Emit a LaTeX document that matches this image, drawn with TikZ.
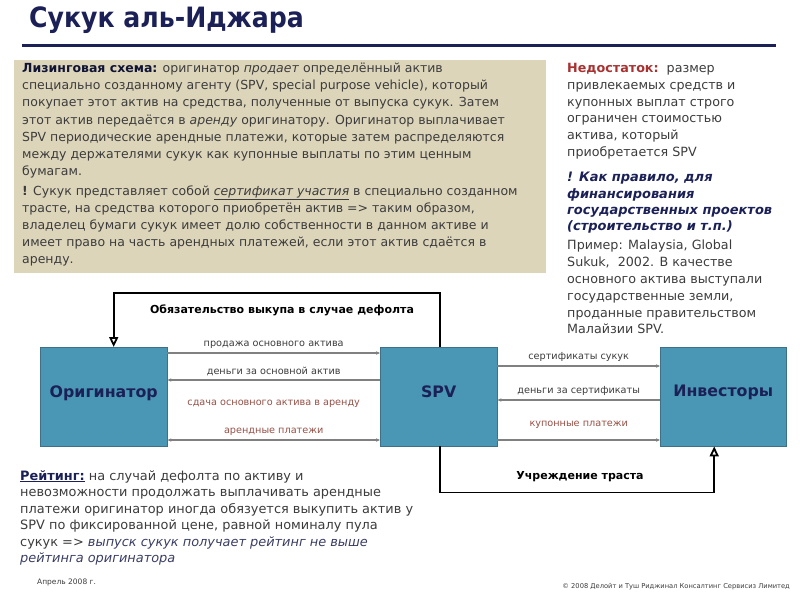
\documentclass[tikz,border=0pt]{standalone}
\usepackage{fontspec}
\setmainfont{DejaVu Sans}
\newfontfamily\titlefont{DejaVu Sans Condensed}[BoldFont={DejaVu Sans Condensed Bold}]
\usetikzlibrary{arrows.meta}

\definecolor{navy}{RGB}{27,33,87}
\definecolor{beige}{RGB}{220,213,186}
\definecolor{txtgray}{RGB}{60,60,60}
\definecolor{warnred}{RGB}{168,50,50}
\definecolor{boxblue}{RGB}{74,150,181}
\definecolor{boxedge}{RGB}{62,112,135}
\definecolor{linegray}{RGB}{128,128,128}
\definecolor{brown}{RGB}{150,80,70}

\begin{document}
\begin{tikzpicture}[x=1pt,y=-1pt,
        party/.style={rectangle,draw=boxedge,fill=boxblue,minimum width=127pt,minimum height=99pt,
            inner sep=0pt,text depth=11pt,font=\fontsize{15.8}{17}\selectfont\bfseries,text=navy},
        flow/.style={draw=linegray,line width=1.3pt,-{Stealth[length=4pt,width=3.5pt]}},
        flowlbl/.style={font=\fontsize{9.7}{11}\selectfont,text=txtgray,inner sep=1pt},
        loop/.style={draw=black,line width=1.8pt,-{Triangle[open,length=10pt,width=9pt]}},
        looplbl/.style={font=\fontsize{11}{13}\selectfont\bfseries,text=black},
        para/.style={anchor=north west,align=left,inner sep=0pt,text=txtgray}]
    \useasboundingbox (0,0) rectangle (800,600);

    % Title
    \node[anchor=west,inner sep=0pt,font=\titlefont\fontsize{28}{30}\selectfont\bfseries,text=navy] (title) at (29,20) {Сукук аль-Иджара};
    \draw[navy,line width=3pt] (22,45) -- (776,45);

    % Leasing scheme
    \fill[beige] (14,60) rectangle (546,273);
    \node[para,font=\fontsize{12.5}{17.1}\selectfont] (lease) at (22,63) {%
        \textcolor{navy!60!black}{\textbf{Лизинговая схема:}} оригинатор \textit{продает} определённый актив\\
        специально созданному агенту (SPV, special purpose vehicle), который\\
        покупает этот актив на средства, полученные от выпуска сукук. Затем\\
        этот актив передаётся в \textit{аренду} оригинатору. Оригинатор выплачивает\\
        SPV периодические арендные платежи, которые затем распределяются\\
        между держателями сукук как купонные выплаты по этим ценным\\
        бумагам.\\[3pt]
        \textbf{!} Сукук представляет собой \underline{\textit{сертификат участия}} в специально созданном\\
        трасте, на средства которого приобретён актив => таким образом,\\
        владелец бумаги сукук имеет долю собственности в данном активе и\\
        имеет право на часть арендных платежей, если этот актив сдаётся в\\
        аренду.};

    % Right column
    \node[para,font=\fontsize{12.7}{16.8}\selectfont] (drawback) at (567,63) {%
        \textcolor{warnred}{\textbf{Недостаток:}}\ \ размер\\
        привлекаемых средств и\\
        купонных выплат строго\\
        ограничен стоимостью\\
        актива, который\\
        приобретается SPV};
    \node[para,font=\fontsize{13}{16.4}\selectfont\bfseries\itshape,text=navy] (rule) at (567,172) {%
        ! Как правило, для\\
        финансирования\\
        государственных проектов\\
        (строительство и т.п.)};
    \node[para,font=\fontsize{12.7}{16.8}\selectfont] (example) at (567,240) {%
        Пример: Malaysia, Global\\
        Sukuk,\ \ 2002. В качестве\\
        основного актива выступали\\
        государственные земли,\\
        проданные правительством\\
        Малайзии SPV.};

    % Parties
    \node[party,anchor=north west] (orig) at (40,347) {Оригинатор};
    \node[party,anchor=north west,minimum width=117pt] (spv) at (380,347) {SPV};
    \node[party,anchor=north west,minimum width=126pt] (inv) at (660,347) {Инвесторы};

    % Originator <-> SPV
    \draw[flow] ([yshift=-6pt]orig.north east) -- node[flowlbl,above=3pt] (sale) {продажа основного актива} ([yshift=-6pt]spv.north west);
    \draw[flow] ([yshift=-33pt]spv.north west) -- node[flowlbl,above=3pt] (money) {деньги за основной актив} ([yshift=-33pt]orig.north east);
    \draw[flow,{Stealth[length=4pt,width=3.5pt]}-{Stealth[length=4pt,width=3.5pt]}] ([yshift=-93pt]orig.north east) --
        node[flowlbl,above=3pt,text=brown] (rent) {арендные платежи}
        node[flowlbl,above=31pt,text=brown] (lease2) {сдача основного актива в аренду} ([yshift=-93pt]spv.north west);

    % SPV <-> Investors
    \draw[flow] ([yshift=-19pt]spv.north east) -- node[flowlbl,above=3pt] (cert) {сертификаты сукук} ([yshift=-19pt]inv.north west);
    \draw[flow] ([yshift=-53pt]inv.north west) -- node[flowlbl,above=3pt] (certmoney) {деньги за сертификаты} ([yshift=-53pt]spv.north east);
    \draw[flow] ([yshift=-93pt]spv.north east) -- node[flowlbl,above=10pt,text=brown] (coupon) {купонные платежи} ([yshift=-93pt]inv.north west);

    % Loops
    \draw[loop] ([xshift=1.5pt]spv.north) -- ++(0,-54) -| ([xshift=10pt]orig.north);
    \node[looplbl] (buyback) at (282,310) {Обязательство выкупа в случае дефолта};
    \draw[loop] ([xshift=1.5pt]spv.south) -- ++(0,46) -| ([xshift=-9pt]inv.south);
    \node[looplbl] (trust) at (580,477) {Учреждение траста};

    % Rating
    \node[para,font=\fontsize{12.9}{16.5}\selectfont] (rating) at (20,470) {%
        \textcolor{navy}{\underline{\textbf{Рейтинг:}}} на случай дефолта по активу и\\
        невозможности продолжать выплачивать арендные\\
        платежи оригинатор иногда обязуется выкупить актив у\\
        SPV по фиксированной цене, равной номиналу пула\\
        сукук => \textcolor{navy!70!gray}{\textit{выпуск сукук получает рейтинг не выше}}\\
        \textcolor{navy!70!gray}{\textit{рейтинга оригинатора}}};

    % Footer
    \node[anchor=west,inner sep=0pt,font=\fontsize{7.5}{9}\selectfont,text=txtgray] (date) at (37,582) {Апрель 2008 г.};
    \node[anchor=east,inner sep=0pt,font=\fontsize{6.7}{8}\selectfont,text=txtgray] (copy) at (790,587) {© 2008 Делойт и Туш Риджинал Консалтинг Сервисиз Лимитед};
\end{tikzpicture}
\end{document}
